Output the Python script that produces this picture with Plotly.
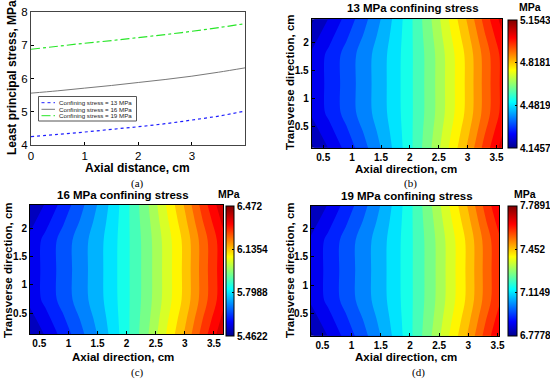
import plotly.graph_objects as go

W, H = 550, 379
FONT = "Arial, Liberation Sans, sans-serif"
SERIF = "Times New Roman, Liberation Serif, serif"

# ---------------- (a) line chart data ----------------
axial_distance_cm = [0, 0.5, 1, 1.5, 2, 2.5, 3, 3.5, 3.99]
sigma3_13 = [4.25, 4.32, 4.39, 4.47, 4.55, 4.64, 4.75, 4.87, 5.02]
sigma3_16 = [5.56, 5.63, 5.71, 5.79, 5.88, 5.97, 6.07, 6.19, 6.32]
sigma3_19 = [6.88, 6.97, 7.06, 7.14, 7.23, 7.32, 7.42, 7.53, 7.65]
series_names = ["Confining stress = 13 MPa", "Confining stress = 16 MPa",
                "Confining stress = 19 MPa"]
a_xticks = [0, 1, 2, 3]
a_yticks = [4, 5, 6, 7, 8]

# ---------------- (b)-(d) contour data ----------------
axial_cm = [0.3, 0.6, 0.9, 1.2, 1.5, 1.8, 2.1, 2.4, 2.7, 3.0, 3.3, 3.7]
transverse_cm = [0.1, 0.42, 0.75, 1.27, 1.79, 2.12, 2.44]

stress_13 = [
    [4.181, 4.239, 4.297, 4.358, 4.421, 4.492, 4.573, 4.658, 4.751, 4.842, 4.946, 5.069],
    [4.214, 4.268, 4.322, 4.378, 4.435, 4.498, 4.571, 4.649, 4.736, 4.821, 4.921, 5.041],
    [4.245, 4.295, 4.346, 4.397, 4.447, 4.503, 4.569, 4.640, 4.722, 4.803, 4.899, 5.015],
    [4.247, 4.297, 4.347, 4.398, 4.448, 4.504, 4.569, 4.640, 4.721, 4.801, 4.897, 5.013],
    [4.245, 4.295, 4.346, 4.397, 4.447, 4.503, 4.569, 4.640, 4.722, 4.803, 4.899, 5.015],
    [4.214, 4.268, 4.322, 4.378, 4.435, 4.498, 4.571, 4.649, 4.736, 4.821, 4.921, 5.041],
    [4.181, 4.239, 4.297, 4.358, 4.421, 4.492, 4.573, 4.658, 4.751, 4.842, 4.946, 5.069],
]
stress_16 = [
    [5.498, 5.555, 5.614, 5.674, 5.738, 5.809, 5.890, 5.975, 6.068, 6.159, 6.263, 6.386],
    [5.530, 5.584, 5.639, 5.694, 5.752, 5.815, 5.888, 5.966, 6.053, 6.139, 6.239, 6.358],
    [5.561, 5.612, 5.663, 5.714, 5.764, 5.820, 5.886, 5.958, 6.039, 6.120, 6.216, 6.332],
    [5.563, 5.614, 5.664, 5.715, 5.765, 5.821, 5.886, 5.957, 6.038, 6.119, 6.215, 6.331],
    [5.561, 5.612, 5.663, 5.714, 5.764, 5.820, 5.886, 5.958, 6.039, 6.120, 6.216, 6.332],
    [5.530, 5.584, 5.639, 5.694, 5.752, 5.815, 5.888, 5.966, 6.053, 6.139, 6.239, 6.358],
    [5.498, 5.555, 5.614, 5.674, 5.738, 5.809, 5.890, 5.975, 6.068, 6.159, 6.263, 6.386],
]
stress_19 = [
    [6.813, 6.871, 6.930, 6.990, 7.054, 7.125, 7.207, 7.292, 7.385, 7.476, 7.580, 7.703],
    [6.846, 6.900, 6.955, 7.010, 7.068, 7.131, 7.205, 7.282, 7.369, 7.455, 7.556, 7.675],
    [6.877, 6.928, 6.979, 7.030, 7.080, 7.136, 7.203, 7.274, 7.355, 7.436, 7.533, 7.649],
    [6.879, 6.930, 6.980, 7.031, 7.081, 7.137, 7.203, 7.273, 7.354, 7.435, 7.531, 7.648],
    [6.877, 6.928, 6.979, 7.030, 7.080, 7.136, 7.203, 7.274, 7.355, 7.436, 7.533, 7.649],
    [6.846, 6.900, 6.955, 7.010, 7.068, 7.131, 7.205, 7.282, 7.369, 7.455, 7.556, 7.675],
    [6.813, 6.871, 6.930, 6.990, 7.054, 7.125, 7.207, 7.292, 7.385, 7.476, 7.580, 7.703],
]
cbar_ticks_13 = [4.1457, 4.4819, 4.8181, 5.1543]
cbar_ticks_16 = [5.4622, 5.7988, 6.1354, 6.472]
cbar_ticks_19 = [6.7778, 7.1149, 7.452, 7.7891]
cbar_labels_13 = ["4.1457", "4.4819", "4.8181", "5.1543"]
cbar_labels_16 = ["5.4622", "5.7988", "6.1354", "6.472"]
cbar_labels_19 = ["6.7778", "7.1149", "7.452", "7.7891"]
panel_titles = ["13 MPa confining stress", "16 MPa confining stress",
                "19 MPa confining stress"]
c_xticks = [0.5, 1, 1.5, 2, 2.5, 3, 3.5]
c_xticktext = ["0.5", "1", "1.5", "2", "2.5", "3", "3.5"]
c_yticks = [0.5, 1, 1.5, 2]
c_yticktext = ["0.5", "1", "1.5", "2"]

JET = [[0.0, "rgb(0,0,140)"], [0.11, "rgb(0,0,255)"], [0.36, "rgb(0,255,255)"],
       [0.61, "rgb(255,255,0)"], [0.86, "rgb(255,0,0)"], [1.0, "rgb(128,0,0)"]]
N_BANDS = 22


def fx(px):
    return px / W


def fy(py):
    return 1 - py / H


fig = go.Figure()

# ---- (a) lines ----
line_styles = [dict(color="rgb(30,30,255)", width=1.2, dash="dot"),
               dict(color="rgb(120,120,120)", width=1.0, dash="solid"),
               dict(color="rgb(40,230,40)", width=1.2, dash="dashdot")]
for ys, st, nm in zip([sigma3_13, sigma3_16, sigma3_19], line_styles, series_names):
    fig.add_trace(go.Scatter(x=axial_distance_cm, y=ys, mode="lines", line=st,
                             name=nm, showlegend=False, xaxis="x", yaxis="y",
                             line_shape="spline", hoverinfo="skip"))

# ---- contour panels ----
panels = [
    ("x2", "y2", stress_13, cbar_ticks_13, cbar_labels_13, dict(x=508.3, top=20, bot=148, th=9)),
    ("x3", "y3", stress_16, cbar_ticks_16, cbar_labels_16, dict(x=225.5, top=206.5, bot=336, th=8)),
    ("x4", "y4", stress_19, cbar_ticks_19, cbar_labels_19, dict(x=507.5, top=206, bot=335.5, th=8.5)),
]
for xa, ya, z, cticks, clabels, cb in panels:
    lo, hi = cticks[0], cticks[-1]
    cs = (hi - lo) / N_BANDS
    fig.add_trace(go.Contour(
        x=axial_cm, y=transverse_cm, z=z, xaxis=xa, yaxis=ya,
        colorscale=JET, showscale=False, autocontour=False,
        contours=dict(start=lo + cs, end=hi - cs, size=cs, coloring="fill",
                      showlines=False),
        line=dict(width=0, smoothing=1.0), hoverinfo="skip"))
    fig.add_trace(go.Scatter(
        x=[axial_cm[0]], y=[transverse_cm[0]], xaxis=xa, yaxis=ya, mode="markers",
        hoverinfo="skip", showlegend=False,
        marker=dict(size=1, opacity=0, color=[lo], cmin=lo, cmax=hi, colorscale=JET,
                    showscale=True,
                    colorbar=dict(x=fx(cb["x"]), xanchor="left", xpad=0, ypad=0,
                                  y=fy((cb["top"] + cb["bot"]) / 2), yanchor="middle",
                                  len=(cb["bot"] - cb["top"]) / H, lenmode="fraction",
                                  thickness=cb["th"], thicknessmode="pixels",
                                  outlinewidth=1, outlinecolor="black",
                                  tickvals=cticks, ticktext=clabels, ticks="inside",
                                  ticklen=2, tickcolor="black",
                                  tickfont=dict(family=FONT, size=10, color="black",
                                                weight="bold")))))

axis_base = dict(showline=True, mirror=True, linecolor="black", linewidth=1,
                 ticks="inside", ticklen=3, tickcolor="black", showgrid=False,
                 zeroline=False, automargin=False)
tf_bold = dict(family=FONT, size=10, color="black", weight="bold")

layout = dict(
    width=W, height=H, autosize=False,
    margin=dict(l=0, r=0, t=0, b=0, pad=0, autoexpand=False),
    paper_bgcolor="white", plot_bgcolor="white", showlegend=False,
    xaxis=dict(axis_base, domain=[fx(31), fx(245)], range=[0, 3.99], tickvals=a_xticks,
               linecolor="#444", tickfont=dict(family=FONT, size=11.5, color="black"),
               anchor="y"),
    yaxis=dict(axis_base, domain=[fy(145), fy(12)], range=[4, 8], tickvals=a_yticks,
               linecolor="#444", tickfont=dict(family=FONT, size=11.5, color="black"),
               anchor="x"),
    xaxis2=dict(axis_base, domain=[fx(311.7), fx(501.7)], range=[0.3, 3.59],
                tickvals=c_xticks, ticktext=c_xticktext, tickfont=tf_bold, anchor="y2"),
    yaxis2=dict(axis_base, domain=[fy(147.7), fy(19.3)], range=[0.12, 2.42],
                tickvals=c_yticks, ticktext=c_yticktext, tickfont=tf_bold, anchor="x2"),
    xaxis3=dict(axis_base, domain=[fx(30), fx(223.3)], range=[0.34, 3.66],
                tickvals=c_xticks, ticktext=c_xticktext, tickfont=tf_bold, anchor="y3"),
    yaxis3=dict(axis_base, domain=[fy(334.3), fy(205)], range=[0.13, 2.41],
                tickvals=c_yticks, ticktext=c_yticktext, tickfont=tf_bold, anchor="x3"),
    xaxis4=dict(axis_base, domain=[fx(311), fx(499.3)], range=[0.306, 3.53],
                tickvals=c_xticks, ticktext=c_xticktext, tickfont=tf_bold, anchor="y4"),
    yaxis4=dict(axis_base, domain=[fy(335.7), fy(206)], range=[0.11, 2.40],
                tickvals=c_yticks, ticktext=c_yticktext, tickfont=tf_bold, anchor="x4"),
)
fig.update_layout(**layout)

ann = []


def add_text(text, px, py, size=11.5, bold=True, rot=0, family=FONT, xanchor="center",
             color="black"):
    ann.append(dict(text=text, x=fx(px), y=fy(py), xref="paper", yref="paper",
                    xanchor=xanchor, yanchor="middle", showarrow=False, textangle=rot,
                    font=dict(family=family, size=size, color=color,
                              weight="bold" if bold else "normal")))


# (a)
add_text("Least principal stress, MPa", 12, 78, size=12, rot=-90)
add_text("Axial distance, cm", 137.5, 168, size=12)
add_text("(a)", 137, 183, size=11, bold=False, family=SERIF)
# (b)
add_text(panel_titles[0], 413, 8, size=11.5)
add_text("MPa", 530, 7, size=10.5)
add_text("Axial direction, cm", 406, 169.5, size=11.5)
add_text("Transverse direction, cm", 290, 82, size=11.5, rot=-90)
add_text("(b)", 410, 183, size=11, bold=False, family=SERIF)
# (c)
add_text(panel_titles[1], 123, 195, size=11.5)
add_text("MPa", 229, 194, size=10.5)
add_text("Axial direction, cm", 123, 356.5, size=11.5)
add_text("Transverse direction, cm", 8, 270, size=11.5, rot=-90)
add_text("(c)", 137, 372, size=11, bold=False, family=SERIF)
# (d)
add_text(panel_titles[2], 406.7, 196, size=11.5)
add_text("MPa", 525, 194, size=10.5)
add_text("Axial direction, cm", 406, 356.5, size=11.5)
add_text("Transverse direction, cm", 290, 270, size=11.5, rot=-90)
add_text("(d)", 418, 372, size=11, bold=False, family=SERIF)

# manual legend for (a)
shapes = [dict(type="rect", xref="paper", yref="paper", x0=fx(38.5), x1=fx(136.5),
               y0=fy(121), y1=fy(96.5), line=dict(color="#555", width=1),
               fillcolor="white", layer="above")]
rows_y = [102.7, 109.3, 115.7]
for ry, st, nm in zip(rows_y, line_styles, series_names):
    shapes.append(dict(type="line", xref="paper", yref="paper", x0=fx(41.5), x1=fx(55),
                       y0=fy(ry), y1=fy(ry), line=dict(color=st["color"], width=1,
                                                      dash=st["dash"]), layer="above"))
    add_text(nm, 57, ry, size=6.2, bold=False, xanchor="left", color="#222")

fig.update_layout(annotations=ann, shapes=shapes)
fig.write_html("out.html", config={"displayModeBar": False, "staticPlot": True},
               post_script="document.body.style.margin='0';"
                           "document.body.style.overflow='hidden';")
